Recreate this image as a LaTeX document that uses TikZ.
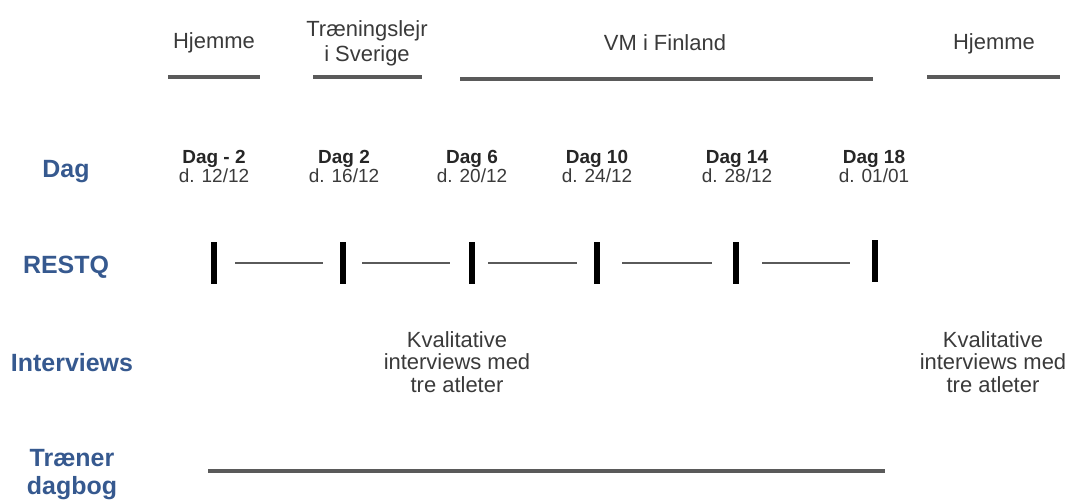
\documentclass[tikz,border=0pt]{standalone}
\usepackage{fontspec}
\setmainfont{Liberation Sans}
\definecolor{rowblue}{HTML}{36598F}
\definecolor{linegray}{HTML}{5A5A5A}
\definecolor{textgray}{HTML}{3A3A3A}

\tikzset{
  rowlabel/.style={font=\fontsize{14.2}{15.5}\selectfont\bfseries, text=rowblue, align=center, inner sep=0pt, anchor=base},
  phase/.style={font=\fontsize{12.5}{14.2}\selectfont, text=textgray, align=center, inner sep=0pt, anchor=base},
  daylabel/.style={font=\fontsize{10.8}{10.6}\selectfont, text=textgray, align=center, inner sep=0pt, anchor=base},
  interview/.style={font=\fontsize{12.5}{12.8}\selectfont, text=textgray, align=center, inner sep=0pt, anchor=base},
  restqmark/.style={fill=black, draw=none, minimum width=6*0.02cm, minimum height=42*0.02cm, inner sep=0pt},
  phaseline/.style={draw=linegray, line width=2.2pt},
  gapline/.style={draw=linegray, line width=1.6pt}
}

\begin{document}
\begin{tikzpicture}[x=0.02cm, y=-0.02cm]
    \useasboundingbox (0,0) rectangle (1065,501);

    % the rows (base = last line of a node)
    \node[rowlabel] (dag) at (66,177) {Dag};
    \node[rowlabel] (restq) at (66,273) {RESTQ};
    \node[rowlabel] (interviews) at (72,371) {Interviews};
    \node[rowlabel] (traener) at (72,494) {Træner\\dagbog};

    % where the athletes are
    \node[phase] (hjemA) at (214,48) {Hjemme};
    \node[phase] (sverige) at (367,61) {Træningslejr\\i Sverige};
    \node[phase] (vm) at (665,50) {VM i Finland};
    \node[phase] (hjemB) at (994,49) {Hjemme};

    \coordinate (hjemA-l) at (168,77);
    \coordinate (hjemA-r) at (260,77);
    \coordinate (sverige-l) at (313,77);
    \coordinate (sverige-r) at (422,77);
    \coordinate (vm-l) at (460,79);
    \coordinate (vm-r) at (873,79);
    \coordinate (hjemB-l) at (927,77);
    \coordinate (hjemB-r) at (1060,77);

    \draw[phaseline] (hjemA-l) -- (hjemA-r);
    \draw[phaseline] (sverige-l) -- (sverige-r);
    \draw[phaseline] (vm-l) -- (vm-r);
    \draw[phaseline] (hjemB-l) -- (hjemB-r);

    % the days
    \node[daylabel] (d1) at (214,182) {\textbf{\color{black!85}Dag - 2}\\d. 12/12};
    \node[daylabel] (d2) at (344,182) {\textbf{\color{black!85}Dag 2}\\d. 16/12};
    \node[daylabel] (d3) at (472,182) {\textbf{\color{black!85}Dag 6}\\d. 20/12};
    \node[daylabel] (d4) at (597,182) {\textbf{\color{black!85}Dag 10}\\d. 24/12};
    \node[daylabel] (d5) at (737,182) {\textbf{\color{black!85}Dag 14}\\d. 28/12};
    \node[daylabel] (d6) at (874,182) {\textbf{\color{black!85}Dag 18}\\d. 01/01};

    % the RESTQ marks and the gaps between them
    \node[restqmark] (t1) at (214,263) {};
    \node[restqmark] (t2) at (343,263) {};
    \node[restqmark] (t3) at (472,263) {};
    \node[restqmark] (t4) at (597,263) {};
    \node[restqmark] (t5) at (736,263) {};
    \node[restqmark] (t6) at (875,261) {};

    \foreach \a/\b/\sa/\sb in {t1/t2/18/17, t2/t3/16/19, t3/t4/13/17, t4/t5/22/21, t5/t6/23/22}
        \draw[gapline, shorten <=\sa*0.02cm, shorten >=\sb*0.02cm] (\a.east |- 0,263) -- (\b.west |- 0,263);

    % the interviews
    \node[interview] (kvalA) at (457,392) {Kvalitative\\interviews med\\tre atleter};
    \node[interview] (kvalB) at (993,392) {Kvalitative\\interviews med\\tre atleter};

    % the trainer's diary
    \coordinate (dagbog-l) at (208,471);
    \coordinate (dagbog-r) at (885,471);
    \draw[phaseline] (dagbog-l) -- (dagbog-r);

\end{tikzpicture}
\end{document}
